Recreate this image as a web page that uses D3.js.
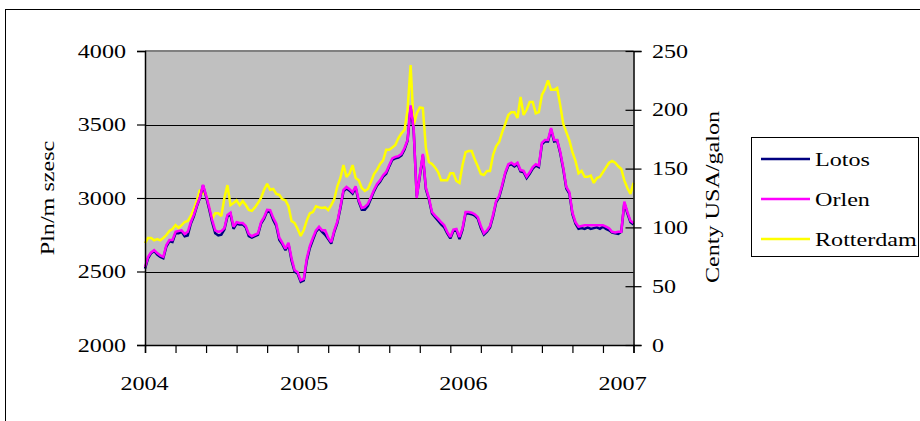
<!DOCTYPE html>
<html><head><meta charset="utf-8">
<script src="https://cdn.jsdelivr.net/npm/d3@7"></script>
<style>
html,body{margin:0;padding:0;background:#fff;}
svg{display:block;}
text{font-family:"Liberation Serif","Times New Roman",serif;font-size:19px;fill:#000;}
</style></head><body>
<svg id="chart" width="920" height="421"></svg>
<script>
// Weekly quotations, first week of January 2004 to late January 2007
const startDate = new Date(2004, 0, 2);
const endDate = new Date(2007, 0, 26);
const yearLabels = [2004, 2005, 2006, 2007];
const leftTicks = [2000, 2500, 3000, 3500, 4000];
const rightTicks = [0, 50, 100, 150, 200, 250];
const seriesNames = ["Lotos", "Orlen", "Rotterdam"];
const seriesColors = ["#000080", "#FF00FF", "#FFFF00"];
const leftTitle = "Pln/m szesc";
const rightTitle = "Centy USA/galon";

// Lotos, PLN per m3 (left axis)
const lotos = [
  2520, 2590, 2625, 2640, 2615, 2600, 2590, 2670, 2705, 2700,
  2760, 2760, 2770, 2740, 2745, 2825, 2875, 2945, 3000, 3085,
  3010, 2925, 2835, 2760, 2745, 2750, 2785, 2875, 2890, 2790,
  2825, 2820, 2820, 2800, 2740, 2730, 2740, 2750, 2825, 2860,
  2910, 2905, 2850, 2810, 2715, 2685, 2645, 2685, 2575, 2500,
  2485, 2430, 2440, 2575, 2660, 2715, 2770, 2795, 2770, 2750,
  2720, 2690, 2770, 2830, 2930, 3045, 3065, 3050, 3030, 3070,
  2975, 2920, 2920, 2945, 2995, 3045, 3085, 3110, 3145, 3165,
  3215, 3260, 3270, 3275, 3290, 3330, 3390, 3615, 3460, 3010,
  3145, 3290, 3060, 2990, 2895, 2870, 2845, 2820, 2800, 2760,
  2725, 2775, 2780, 2720, 2785, 2895, 2895, 2890, 2880, 2860,
  2795, 2750, 2770, 2800, 2875, 2970, 3005, 3080, 3165, 3220,
  3230, 3215, 3230, 3180, 3175, 3135, 3165, 3200, 3220, 3210,
  3365, 3385, 3385, 3465, 3385, 3390, 3305, 3195, 3065, 3030,
  2890, 2825, 2790, 2795, 2790, 2800, 2790, 2795, 2800, 2790,
  2805, 2790, 2780, 2765, 2760, 2755, 2770, 2965, 2895, 2835, 2820
];

// Orlen, PLN per m3 (left axis)
const orlen = [
  2530, 2600, 2630, 2645, 2625, 2610, 2600, 2680, 2715, 2715,
  2770, 2775, 2780, 2755, 2770, 2835, 2885, 2950, 3005, 3090,
  3020, 2940, 2850, 2780, 2770, 2775, 2795, 2885, 2900, 2805,
  2835, 2830, 2830, 2810, 2755, 2740, 2750, 2760, 2835, 2870,
  2920, 2918, 2865, 2825, 2730, 2695, 2655, 2695, 2590, 2510,
  2495, 2440, 2450, 2590, 2675, 2730, 2780, 2805, 2780, 2780,
  2730, 2700, 2780, 2840, 2940, 3055, 3075, 3060, 3040, 3080,
  2985, 2932, 2940, 2960, 3005, 3055, 3095, 3120, 3155, 3177,
  3225, 3270, 3280, 3285, 3300, 3340, 3395, 3630, 3470, 3000,
  3155, 3300, 3070, 3000, 2905, 2880, 2860, 2835, 2815, 2770,
  2735, 2785, 2790, 2735, 2795, 2905, 2905, 2900, 2890, 2870,
  2810, 2760, 2780, 2810, 2885, 2980, 3015, 3090, 3175, 3230,
  3240, 3225, 3240, 3190, 3185, 3145, 3175, 3210, 3230, 3220,
  3375, 3395, 3395, 3475, 3395, 3395, 3315, 3205, 3075, 3040,
  2900, 2835, 2805, 2810, 2815, 2815, 2815, 2815, 2815, 2815,
  2815, 2805, 2795, 2770, 2765, 2770, 2770, 2975, 2905, 2845, 2830
];

// Rotterdam, US cents per gallon (right axis)
const rotterdam = [
  86.7, 91, 91, 89, 90, 89, 91, 93.5, 97, 98.6,
  102, 99.5, 102, 104.6, 105.4, 109.7, 115.6, 123, 132, 129,
  127.6, 117, 107, 112, 112, 109.7, 125, 136, 119, 120.7,
  123, 119, 122.4, 119, 114.8, 114, 117, 120.7, 125, 132,
  137, 132, 132.7, 128.4, 127.6, 124, 123, 118, 105.4, 103.7,
  98.6, 92.7, 97.8, 106, 112, 113, 118, 117, 116.5, 117,
  114.8, 119, 124, 135, 142, 153, 143, 146, 153, 142,
  140, 133.5, 131, 132.7, 138.6, 145.4, 149, 154, 157, 166,
  166, 168, 170, 176, 180, 183, 200, 238, 187, 197,
  202, 201.5, 167.5, 155.6, 154, 151, 147, 140, 140, 140,
  146, 146, 139.5, 137.8, 153, 164, 165, 165, 158, 152,
  145.4, 144.6, 148, 148, 161.6, 169, 172.6, 181, 188, 195.6,
  198, 198, 193, 211, 195.6, 200, 206.6, 206.6, 197, 198,
  212.6, 217.7, 225, 217, 217, 218.5, 204, 188, 181, 174,
  164, 156.5, 146, 148, 143, 143, 144, 137.8, 142, 143,
  147, 151, 155, 156.5, 155, 152, 149.7, 140, 133.5, 128.4, 137.8
];

const weeks = orlen.map((_, i) => d3.timeDay.offset(startDate, 7 * i));

const svg = d3.select("#chart");
const plot = { left: 145, right: 633.5, top: 51, bottom: 345 };
const STRETCH = 1.27;

const x = d3.scaleTime().domain([startDate, endDate]).range([plot.left, plot.right]);
const yL = d3.scaleLinear().domain([2000, 4000]).range([plot.bottom, plot.top]);
const yR = d3.scaleLinear().domain([0, 250]).range([plot.bottom, plot.top]);

// wide serif lettering used throughout the chart
function label(parent, px, py, str, anchor, angle) {
  return parent.append("text")
    .attr("transform", `translate(${px},${py}) rotate(${angle || 0}) scale(${STRETCH},1)`)
    .attr("text-anchor", anchor)
    .text(str);
}

// outer chart frame
svg.append("rect").attr("x", 5.5).attr("y", 9.5).attr("width", 1000).attr("height", 1000)
  .attr("fill", "#fff").attr("stroke", "#000").attr("stroke-width", 1);

// plot area
svg.append("rect")
  .attr("x", plot.left).attr("y", plot.top)
  .attr("width", plot.right - plot.left).attr("height", plot.bottom - plot.top)
  .attr("fill", "#C0C0C0");

// horizontal gridlines
svg.append("g").selectAll("line")
  .data(leftTicks.filter(v => v > 2000 && v < 4000))
  .join("line")
  .attr("x1", plot.left).attr("x2", plot.right)
  .attr("y1", d => Math.round(yL(d)) + 0.5).attr("y2", d => Math.round(yL(d)) + 0.5)
  .attr("stroke", "#000").attr("stroke-width", 1);

// plot area top border
svg.append("line")
  .attr("x1", plot.left).attr("x2", plot.right)
  .attr("y1", plot.top).attr("y2", plot.top)
  .attr("stroke", "#808080").attr("stroke-width", 2);

// series lines
const lineL = d3.line().x((d, i) => x(weeks[i])).y(d => yL(d));
const lineR = d3.line().x((d, i) => x(weeks[i])).y(d => yR(d));

svg.append("path").datum(rotterdam).attr("d", lineR)
  .attr("fill", "none").attr("stroke", seriesColors[2]).attr("stroke-width", 2.5)
  .attr("stroke-linejoin", "miter").attr("stroke-miterlimit", 2);
svg.append("path").datum(lotos).attr("d", lineL)
  .attr("fill", "none").attr("stroke", seriesColors[0]).attr("stroke-width", 2.5)
  .attr("stroke-linejoin", "miter").attr("stroke-miterlimit", 2);
svg.append("path").datum(orlen).attr("d", lineL)
  .attr("fill", "none").attr("stroke", seriesColors[1]).attr("stroke-width", 2.5)
  .attr("stroke-linejoin", "miter").attr("stroke-miterlimit", 2);

// left axis
const gLeft = svg.append("g").attr("transform", `translate(${plot.left},0)`)
  .call(d3.axisLeft(yL).tickValues(leftTicks).tickSize(8).tickFormat(""));
// right axis (ticks cross the axis line)
const gRight = svg.append("g").attr("transform", `translate(${plot.right},0)`)
  .call(d3.axisRight(yR).tickValues(rightTicks).tickSize(8).tickFormat(""));
gRight.selectAll(".tick line").attr("x1", -8);
// bottom axis with evenly spaced minor ticks
const xTicks = d3.range(17).map(i => new Date(+startDate + i * (endDate - startDate) / 16));
const gBottom = svg.append("g").attr("transform", `translate(0,${plot.bottom})`)
  .call(d3.axisBottom(x).tickValues(xTicks).tickSize(8).tickFormat(""));

[gLeft, gRight, gBottom].forEach(g => {
  g.select(".domain").attr("stroke", "#000").attr("stroke-width", 1.5);
  g.selectAll(".tick line").attr("stroke", "#000").attr("stroke-width", 1.2);
});

// tick labels
const labels = svg.append("g");
leftTicks.forEach(v => label(labels, 126, yL(v) + 6.5, v, "end"));
rightTicks.forEach(v => label(labels, 652, yR(v) + 6.5, v, "start"));
yearLabels.forEach(yr => label(labels, x(new Date(yr, 0, 1)), 390, yr, "middle"));

// axis titles
label(labels, 54, 198, leftTitle, "middle", -90);
label(labels, 719, 197, rightTitle, "middle", -90);

// legend
const legend = svg.append("g");
legend.append("rect").attr("x", 751.5).attr("y", 137.5).attr("width", 167).attr("height", 119)
  .attr("fill", "#fff").attr("stroke", "#000").attr("stroke-width", 1);
seriesNames.forEach((name, i) => {
  const ly = 159 + i * 40;
  legend.append("line").attr("x1", 761).attr("x2", 810).attr("y1", ly).attr("y2", ly)
    .attr("stroke", seriesColors[i]).attr("stroke-width", 2.5);
  label(legend, 815, ly + 6.5, name, "start");
});
</script>
</body></html>
